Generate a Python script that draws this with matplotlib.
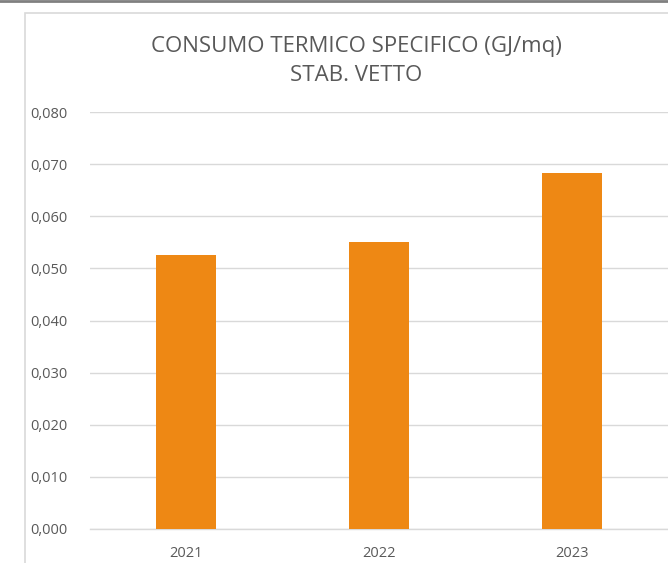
import matplotlib.pyplot as plt
from matplotlib.patches import Rectangle
from matplotlib.lines import Line2D
from matplotlib.ticker import FuncFormatter

anni = ['2021', '2022', '2023']
consumo = [0.0526, 0.0551, 0.0683]
yticks = [0.0, 0.01, 0.02, 0.03, 0.04, 0.05, 0.06, 0.07, 0.08]

plt.rcParams['font.family'] = ['Open Sans', 'DejaVu Sans']

fig = plt.figure(figsize=(6.68, 5.63), dpi=100)
W, H = 668, 563

# bordo del grafico e linea superiore
fig.patches.append(Rectangle((25 / W, -0.1), 1.0, (H - 13) / H + 0.1, transform=fig.transFigure,
                             fill=False, edgecolor='#D9D9D9', linewidth=1.2))
fig.lines.append(Line2D([0, 1], [1 - 1 / H, 1 - 1 / H], transform=fig.transFigure,
                        color='#808080', linewidth=2))

ax = fig.add_axes([90 / W, (H - 529) / H, (W - 90) / W, (529 - 112) / H])
x = range(len(anni))
ax.bar(x, consumo, width=0.31, color='#EE8814', zorder=3)

ax.set_xlim(-0.5, 2.5)
ax.set_ylim(0, 0.08)
ax.set_yticks(yticks)
ax.yaxis.set_major_formatter(FuncFormatter(lambda v, p: f'{v:.3f}'.replace('.', ',')))
ax.set_xticks(list(x))
ax.set_xticklabels(anni)
ax.grid(axis='y', color='#D9D9D9', linewidth=1, zorder=0)
for s in ['top', 'right', 'left']:
    ax.spines[s].set_visible(False)
ax.spines['bottom'].set_color('#D9D9D9')
ax.spines['bottom'].set_linewidth(1)
ax.tick_params(axis='both', length=0, labelsize=10.5, labelcolor='#595959')
ax.tick_params(axis='y', pad=16)
ax.tick_params(axis='x', pad=12)

fig.text(356 / W, 1 - 61 / H, 'CONSUMO TERMICO SPECIFICO (GJ/mq)\nSTAB. VETTO',
         ha='center', va='center', fontsize=16, color='#595959', linespacing=1.45)

fig.savefig('out.png', dpi=100)
